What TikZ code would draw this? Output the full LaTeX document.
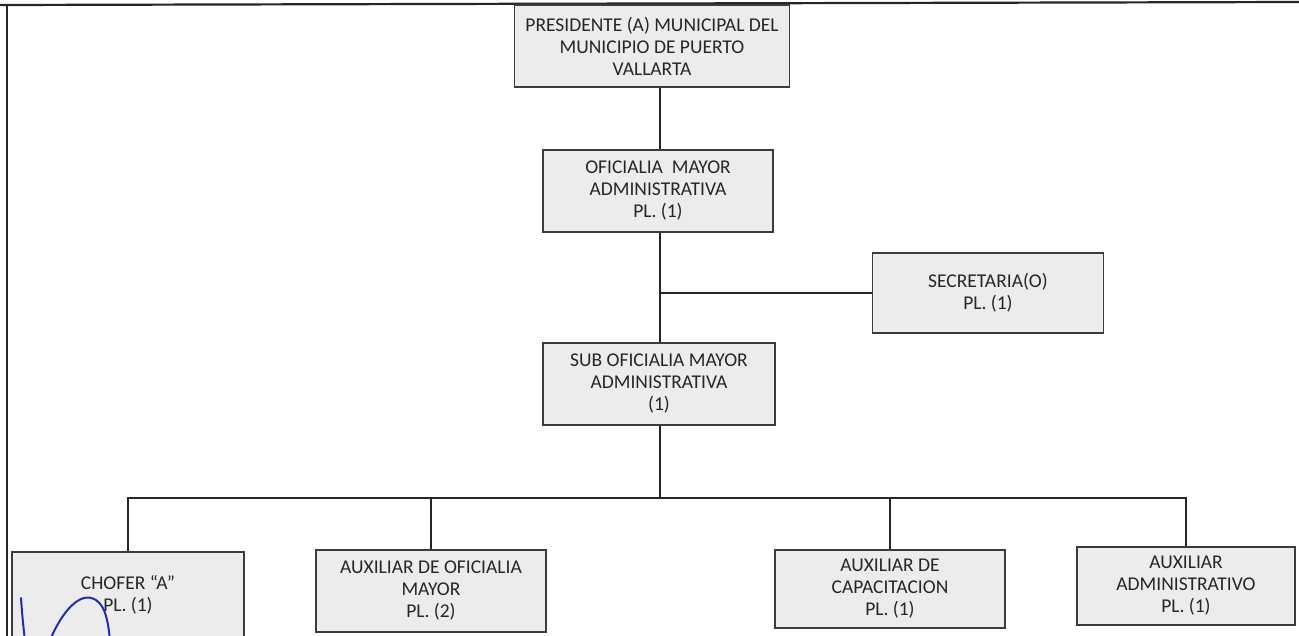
\documentclass[tikz,border=0pt]{standalone}
\usepackage{fontspec}
\setmainfont{Carlito}
\definecolor{boxfill}{RGB}{236,236,236}
\definecolor{boxline}{RGB}{60,60,60}
\definecolor{inkblue}{RGB}{35,45,170}
\tikzset{
  orgbox/.style={draw=boxline, line width=1.2pt, fill=boxfill, rectangle, align=center,
    inner sep=0pt, font=\fontsize{19.5}{22}\selectfont, text=black!85},
  conn/.style={line width=2pt, draw=black!85},
  frame/.style={line width=2.2pt, draw=black!85},
  sig/.style={line width=2pt, draw=inkblue, line cap=round}
}
\begin{document}
\begin{tikzpicture}[x=1pt,y=-1pt]
\clip (0,0) rectangle (1299,635);
\fill[white] (0,0) rectangle (1299,635);
% page frame
\coordinate (fa) at (0,5);
\coordinate (fb) at (1299,2);
\coordinate (fc) at (7,5);
\coordinate (fd) at (7,640);
\draw[frame] (fa) -- (fb);
\draw[frame] (fc) -- (fd);
% boxes
\node[orgbox, minimum width=275, minimum height=82] (pres) at (652,46)
  {PRESIDENTE (A) MUNICIPAL DEL\\MUNICIPIO DE PUERTO\\VALLARTA};
\node[orgbox, minimum width=230, minimum height=82] (ofi) at (658,191)
  {OFICIALIA\ \ MAYOR\\ADMINISTRATIVA\\PL. (1)};
\node[orgbox, minimum width=231, minimum height=80] (sec) at (988,293)
  {SECRETARIA(O)\\PL. (1)};
\node[orgbox, minimum width=232, minimum height=82] (sub) at (659,384)
  {SUB OFICIALIA MAYOR\\ADMINISTRATIVA\\(1)};
\node[orgbox, minimum width=232, minimum height=86] (chof) at (128,595)
  {CHOFER ``A''\\PL. (1)};
\node[orgbox, minimum width=230, minimum height=82] (auxo) at (431,591)
  {AUXILIAR DE OFICIALIA\\MAYOR\\PL. (2)};
\node[orgbox, minimum width=230, minimum height=78] (capa) at (890,589)
  {AUXILIAR DE\\CAPACITACION\\PL. (1)};
\node[orgbox, minimum width=218, minimum height=78] (admi) at (1186,586)
  {AUXILIAR\\ADMINISTRATIVO\\PL. (1)};
% connectors
\coordinate (t) at (660,0);
\coordinate (bus) at (660,498);
\draw[conn] (pres.south -| t) -- (ofi.north -| t);
\draw[conn] (ofi.south -| t) -- (sub.north -| t);
\draw[conn] (sec.west -| t) -- (sec.west);
\draw[conn] (sub.south -| t) -- (bus);
\draw[conn] (chof.north) |- (bus) -| (admi.north);
\draw[conn] (auxo.north) -- (auxo.north |- bus);
\draw[conn] (capa.north) -- (capa.north |- bus);
% signature scribble
\draw[sig] (21,598) .. controls (22,612) and (23,625) .. (25,640);
\draw[sig] (50,640) .. controls (62,612) and (80,590) .. (96,600)
  .. controls (106,607) and (108,622) .. (110,640);
\end{tikzpicture}
\end{document}
